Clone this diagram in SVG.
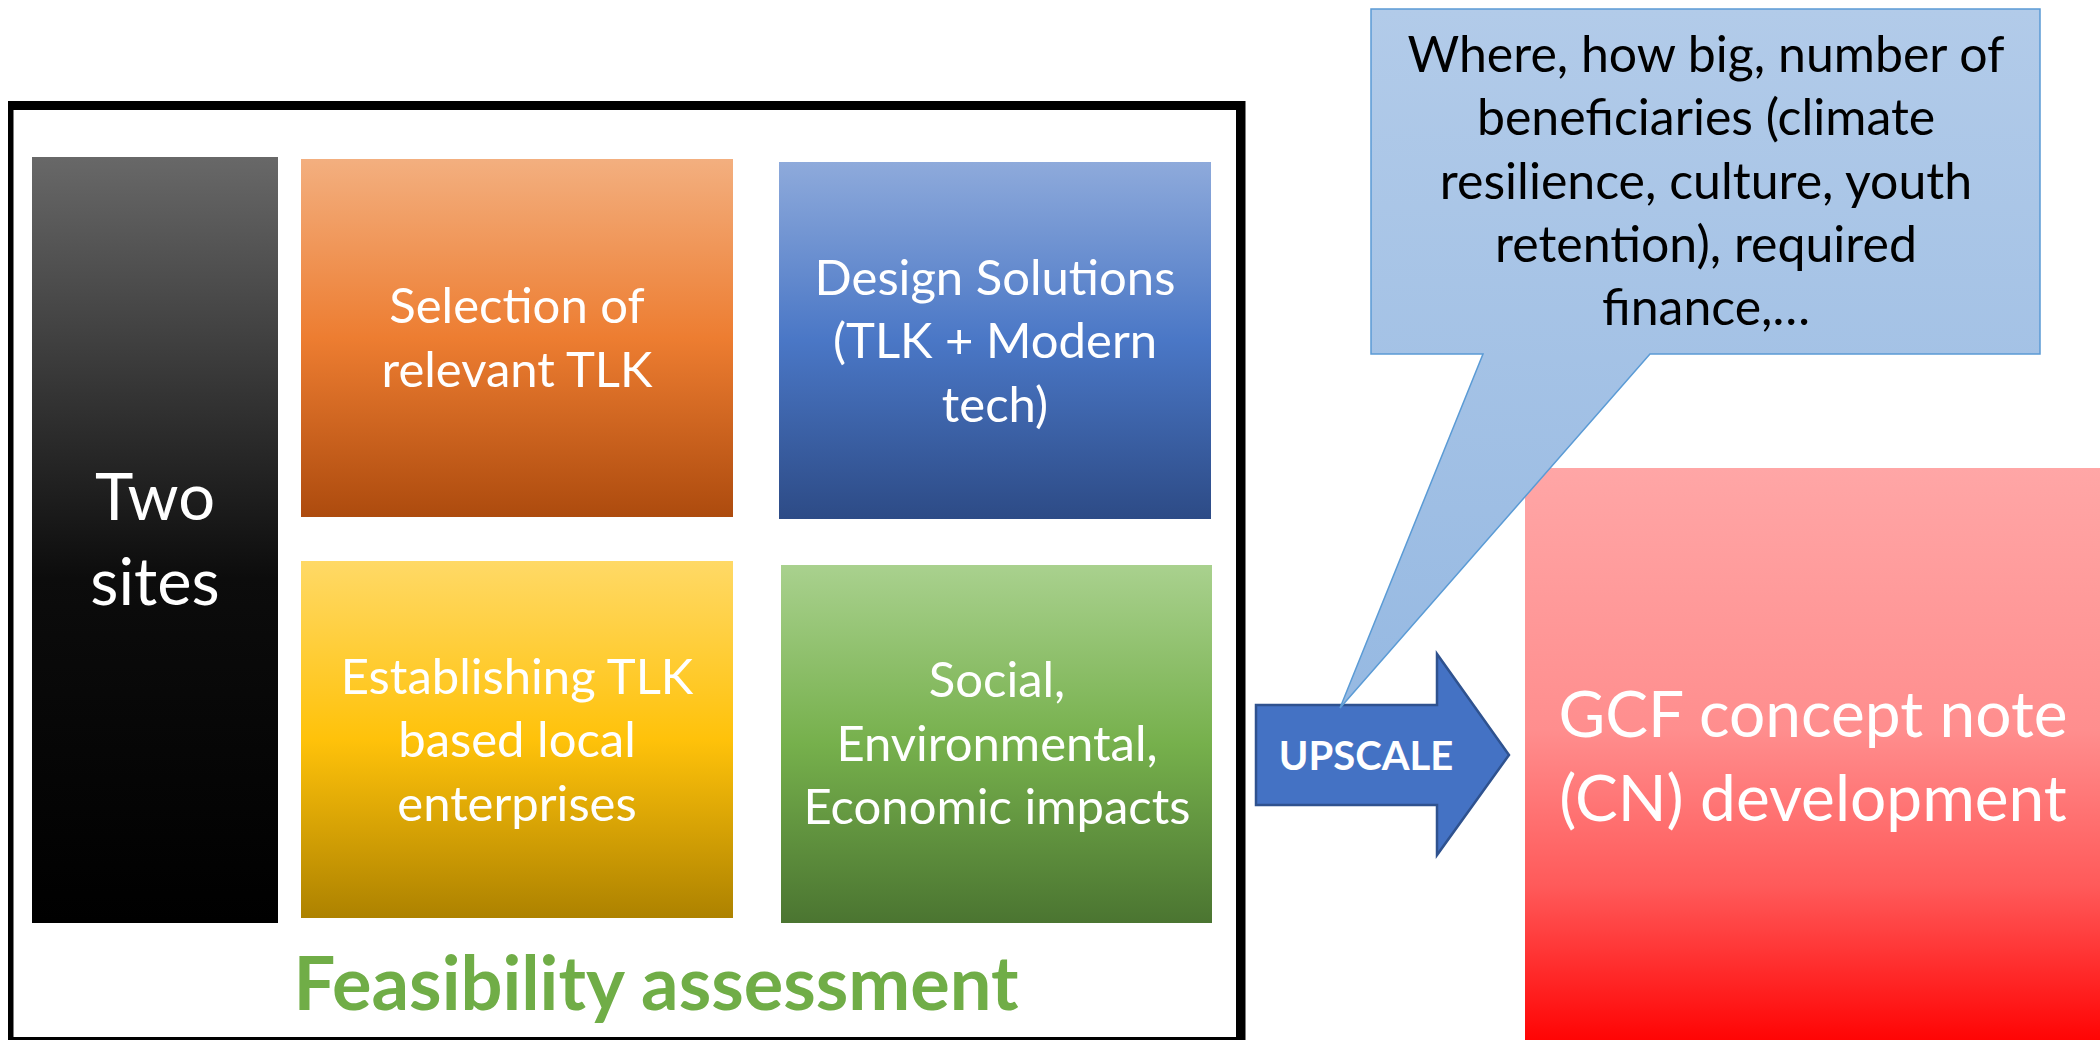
<svg xmlns="http://www.w3.org/2000/svg" width="2100" height="1040" viewBox="0 0 2100 1040">
<defs>
<linearGradient id="gBlack" x1="0" y1="0" x2="0" y2="1"><stop offset="0" stop-color="#686868"/><stop offset="0.55" stop-color="#0c0c0c"/><stop offset="1" stop-color="#000000"/></linearGradient>
<linearGradient id="gOrange" x1="0" y1="0" x2="0" y2="1"><stop offset="0" stop-color="#f3af7f"/><stop offset="0.5" stop-color="#ed7d31"/><stop offset="1" stop-color="#ad4b0e"/></linearGradient>
<linearGradient id="gBlue" x1="0" y1="0" x2="0" y2="1"><stop offset="0" stop-color="#8eaadb"/><stop offset="0.5" stop-color="#4a77c6"/><stop offset="1" stop-color="#2d4b86"/></linearGradient>
<linearGradient id="gYellow" x1="0" y1="0" x2="0" y2="1"><stop offset="0" stop-color="#ffd966"/><stop offset="0.5" stop-color="#ffc20a"/><stop offset="1" stop-color="#ad8200"/></linearGradient>
<linearGradient id="gGreen" x1="0" y1="0" x2="0" y2="1"><stop offset="0" stop-color="#a9d18e"/><stop offset="0.5" stop-color="#76b04c"/><stop offset="1" stop-color="#4b7531"/></linearGradient>
<linearGradient id="gRed" x1="0" y1="0" x2="0" y2="1"><stop offset="0" stop-color="#ffa6a6"/><stop offset="0.45" stop-color="#ff8e8e"/><stop offset="0.72" stop-color="#ff5a5a"/><stop offset="1" stop-color="#ff0000"/></linearGradient>
<linearGradient id="gCallout" x1="0" y1="0" x2="0" y2="1"><stop offset="0" stop-color="#b2cbe9"/><stop offset="1" stop-color="#96b9e2"/></linearGradient>
<style>
.t{font-family:Lato,"Liberation Sans",sans-serif;text-anchor:middle;}
.w{fill:#ffffff;}
.box{font-size:49px;}
.callt{font-size:50px;fill:#000000;}
</style>
</defs>
<rect x="0" y="0" width="2100" height="1040" fill="#ffffff"/>
<g id="frame">
<rect x="8" y="101" width="1237.5" height="945" fill="#000000"/>
<rect x="13.5" y="110" width="1222.5" height="927" fill="#ffffff"/>
</g>
<g id="two-sites">
<rect x="32" y="157" width="246" height="766" fill="url(#gBlack)"/>
<text class="t w" font-size="65" x="155" y="520">Two</text>
<text class="t w" font-size="65" x="155" y="605">sites</text>
</g>
<g id="selection">
<rect x="301" y="159" width="432" height="358" fill="url(#gOrange)"/>
<text class="t w box" x="517" y="323">Selection of</text>
<text class="t w box" x="517" y="387">relevant TLK</text>
</g>
<g id="design">
<rect x="779" y="162" width="432" height="357" fill="url(#gBlue)"/>
<text class="t w box" x="995" y="295">Design Solutions</text>
<text class="t w box" x="995" y="358">(TLK + Modern</text>
<text class="t w box" x="995" y="422">tech)</text>
</g>
<g id="enterprises">
<rect x="301" y="561" width="432" height="357" fill="url(#gYellow)"/>
<text class="t w box" x="517" y="694">Establishing TLK</text>
<text class="t w box" x="517" y="757">based local</text>
<text class="t w box" x="517" y="821">enterprises</text>
</g>
<g id="impacts">
<rect x="781" y="565" width="431" height="358" fill="url(#gGreen)"/>
<text class="t w box" x="997" y="697">Social,</text>
<text class="t w box" x="997" y="761">Environmental,</text>
<text class="t w box" x="997" y="824">Economic impacts</text>
</g>
<g id="feasibility-label">
<text class="t" font-size="74" font-weight="bold" fill="#70ad47" x="656" y="1010">Feasibility assessment</text>
</g>
<g id="gcf">
<rect x="1525" y="468" width="580" height="580" fill="url(#gRed)"/>
<text class="t w" font-size="64" x="1813" y="737">GCF concept note</text>
<text class="t w" font-size="64" x="1813" y="821">(CN) development</text>
</g>
<g id="connectors">
<g id="upscale">
<path d="M1256,705 L1437,705 L1437,654 L1509,755 L1437,855 L1437,805 L1256,805 Z" fill="#4472c4" stroke="#2f528f" stroke-width="2.5" stroke-linejoin="miter"/>
<text class="t w" font-size="40" font-weight="bold" x="1366" y="770">UPSCALE</text>
</g>
</g>
<g id="callout">
<path d="M1371,9 L2040,9 L2040,354 L1650,354 L1340,708 L1483,354 L1371,354 Z" fill="url(#gCallout)" stroke="#5b9bd5" stroke-width="1.5"/>
<text class="t callt" x="1706" y="72">Where, how big, number of</text>
<text class="t callt" x="1706" y="135">beneficiaries (climate</text>
<text class="t callt" x="1706" y="199">resilience, culture, youth</text>
<text class="t callt" x="1706" y="262">retention), required</text>
<text class="t callt" x="1706" y="325">finance,…</text>
</g>
</svg>
